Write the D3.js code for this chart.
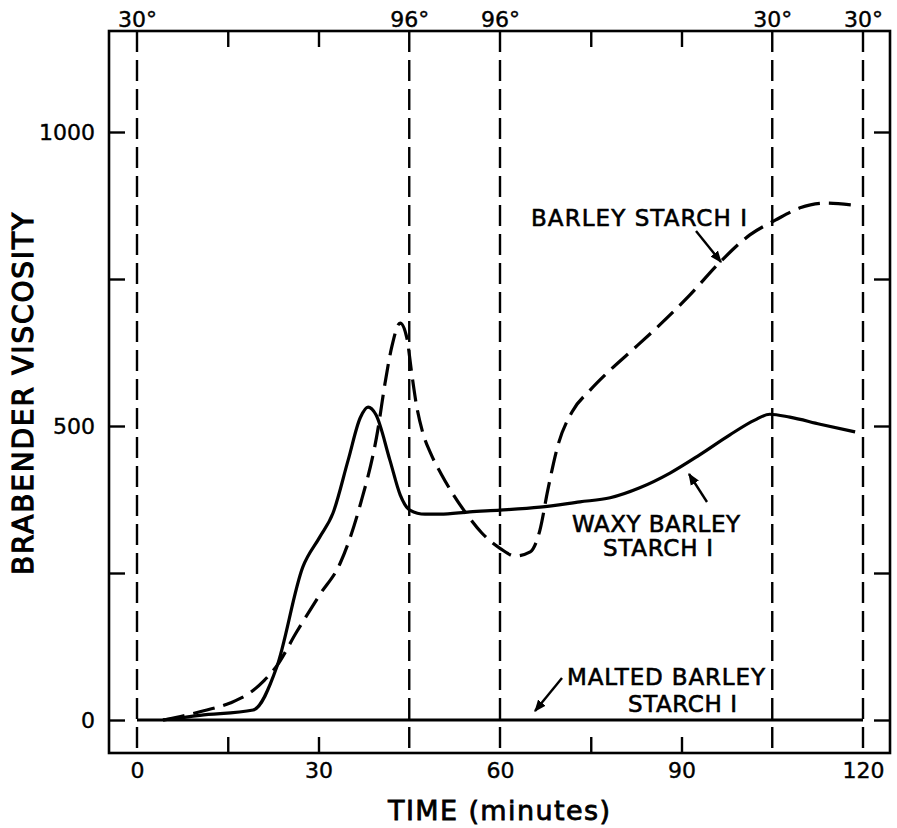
<!DOCTYPE html>
<html>
<head>
<meta charset="utf-8">
<script src="https://cdn.jsdelivr.net/npm/d3@7"></script>
<style>
  body { margin: 0; background: #fff; }
  svg text { font-family: "DejaVu Sans", sans-serif; fill: #000; }
</style>
</head>
<body>
<div id="vis"></div>
<script>
// data (time in minutes, Brabender units)
const barleyTime = [4.3, 10.4, 15.4, 18.5, 21.0, 23.1, 26.4, 30.2, 33.6, 36.9, 39.8, 41.0, 42.1, 43.5, 44.6, 45.4, 46.2, 47.2, 48.6, 50.3, 52.3, 54.5, 57.0, 60.0, 62.5, 65.0, 66.6, 67.9, 69.6, 71.9, 74.9, 78.2, 82.3, 86.4, 91.4, 96.4, 101.3, 105.5, 109.6, 113.7, 118.2];
const barleyVisc = [0, 14, 29, 45, 67, 92, 150, 213, 267, 366, 493, 573, 634, 675, 650, 590, 535, 490, 452, 418, 383, 350, 318, 292, 279, 286, 323, 391, 468, 524, 561, 595, 633, 672, 723, 779, 825, 850, 871, 879, 876];

const waxyTime = [4.3, 10.4, 19.2, 23.1, 27.4, 30.2, 32.4, 34.9, 36.9, 38.2, 39.5, 41.8, 43.5, 45.1, 47.6, 50.1, 55.0, 60.0, 66.6, 73.2, 78.2, 83.1, 88.1, 93.0, 98.0, 102.1, 104.6, 107.9, 112.9, 118.7];
const waxyVisc = [0, 8, 17, 90, 260, 311, 352, 442, 514, 532, 519, 442, 383, 357, 350, 350, 354, 357, 362, 371, 378, 395, 420, 451, 485, 510, 520, 515, 503, 490];

const maltedTime = [0, 120];
const maltedVisc = [0, 0];

// temperature marks on the top edge
const tempTimes = [0, 45, 60, 105, 120];
const tempLabels = ["30°", "96°", "96°", "30°", "30°"];

const xLabelTicks = [0, 30, 60, 90, 120];
const xMinorTicks = [15, 30, 75, 90];
const yTicks = [0, 250, 500, 750, 1000];
const yLabelTicks = [0, 500, 1000];

const WIDTH = 897, HEIGHT = 828;
const FRAME = {left: 109, right: 890, top: 31, bottom: 753};

const svg = d3.select("#vis").append("svg")
    .attr("width", WIDTH)
    .attr("height", HEIGHT);

const X_SCALE = d3.scaleLinear().domain([0, 120]).range([137, 863]);
const Y_SCALE = d3.scaleLinear().domain([0, 1000]).range([720, 132]);

function zip(a, b) { return a.map((t, i) => [t, b[i]]); }

// dashed temperature lines
svg.selectAll(".temp-line")
    .data(tempTimes)
    .enter().append("line")
    .attr("class", "temp-line")
    .attr("x1", d => X_SCALE(d)).attr("x2", d => X_SCALE(d))
    .attr("y1", FRAME.top).attr("y2", FRAME.bottom)
    .attr("stroke", "#000").attr("stroke-width", 2.4)
    .attr("stroke-dasharray", "21,8");

// axes (ticks point inwards)
function styleAxis(g) {
  g.select(".domain").remove();
  g.selectAll(".tick line").attr("stroke", "#000").attr("stroke-width", 2.4);
  g.selectAll(".tick text").attr("font-size", "22px").attr("fill", "#000")
    .attr("stroke", "#000").attr("stroke-width", 0.4);
}

svg.append("g")
    .attr("transform", "translate(" + FRAME.left + ",0)")
    .call(d3.axisLeft(Y_SCALE).tickValues(yTicks).tickSizeInner(-16).tickSizeOuter(0).tickPadding(14)
      .tickFormat(d => yLabelTicks.includes(d) ? d : ""))
    .call(styleAxis);

svg.append("g")
    .attr("transform", "translate(" + FRAME.right + ",0)")
    .call(d3.axisRight(Y_SCALE).tickValues(yTicks).tickSizeInner(-16).tickSizeOuter(0).tickFormat(""))
    .call(styleAxis);

svg.append("g")
    .attr("transform", "translate(0," + FRAME.bottom + ")")
    .call(d3.axisBottom(X_SCALE).tickValues(xMinorTicks).tickSizeInner(-16).tickSizeOuter(0).tickFormat(""))
    .call(styleAxis);

svg.append("g")
    .attr("transform", "translate(0," + FRAME.bottom + ")")
    .call(d3.axisBottom(X_SCALE).tickValues(xLabelTicks).tickSize(0).tickPadding(9))
    .call(styleAxis);

svg.append("g")
    .attr("transform", "translate(0," + FRAME.top + ")")
    .call(d3.axisTop(X_SCALE).tickValues(xMinorTicks).tickSizeInner(-16).tickSizeOuter(0).tickFormat(""))
    .call(styleAxis);

svg.append("g")
    .attr("transform", "translate(0," + FRAME.top + ")")
    .call(d3.axisTop(X_SCALE).tickValues(tempTimes).tickSize(0).tickPadding(4)
      .tickFormat((d, i) => tempLabels[i]))
    .call(styleAxis);

// frame
svg.append("rect")
    .attr("x", FRAME.left).attr("y", FRAME.top)
    .attr("width", FRAME.right - FRAME.left)
    .attr("height", FRAME.bottom - FRAME.top)
    .attr("fill", "none").attr("stroke", "#000").attr("stroke-width", 2.6);

// curves
const line = d3.line()
    .x(d => X_SCALE(d[0]))
    .y(d => Y_SCALE(d[1]))
    .curve(d3.curveMonotoneX);

svg.append("path")
    .datum(zip(maltedTime, maltedVisc))
    .attr("d", line)
    .attr("fill", "none").attr("stroke", "#000").attr("stroke-width", 2.8);

svg.append("path")
    .datum(zip(waxyTime, waxyVisc))
    .attr("d", line)
    .attr("fill", "none").attr("stroke", "#000").attr("stroke-width", 3.2);

svg.append("path")
    .datum(zip(barleyTime, barleyVisc))
    .attr("d", line)
    .attr("fill", "none").attr("stroke", "#000").attr("stroke-width", 3.2)
    .attr("stroke-dasharray", "22,9");

// labels with arrows
svg.append("defs").append("marker")
    .attr("id", "arrow")
    .attr("viewBox", "0 0 10 10")
    .attr("refX", 9).attr("refY", 5)
    .attr("markerWidth", 5).attr("markerHeight", 5)
    .attr("orient", "auto")
  .append("path")
    .attr("d", "M0,1 L10,5 L0,9 Z")
    .attr("fill", "#000");

function note(x, y, len, txt) {
  svg.append("text")
      .attr("x", x).attr("y", y)
      .attr("font-size", "23px")
      .attr("stroke", "#000").attr("stroke-width", 0.6)
      .attr("textLength", len)
      .attr("lengthAdjust", "spacing")
      .text(txt);
}
function arrow(x1, y1, x2, y2) {
  svg.append("line")
      .attr("x1", x1).attr("y1", y1).attr("x2", x2).attr("y2", y2)
      .attr("stroke", "#000").attr("stroke-width", 2.4)
      .attr("marker-end", "url(#arrow)");
}

note(531, 226, 216, "BARLEY STARCH I");
arrow(696, 231, 721, 262);

note(572, 532, 168, "WAXY BARLEY");
note(603, 556, 110, "STARCH I");
arrow(707, 502, 689, 474);

note(567, 685, 198, "MALTED BARLEY");
note(628, 712, 109, "STARCH I");
arrow(562, 678, 535, 711);

// axis titles
svg.append("text")
    .attr("transform", "translate(33,394) rotate(-90)")
    .attr("text-anchor", "middle")
    .attr("font-size", "28px")
    .attr("stroke", "#000").attr("stroke-width", 1.2)
    .attr("textLength", 362)
    .attr("lengthAdjust", "spacing")
    .text("BRABENDER VISCOSITY");

svg.append("text")
    .attr("x", 499).attr("y", 820)
    .attr("text-anchor", "middle")
    .attr("font-size", "27px")
    .attr("stroke", "#000").attr("stroke-width", 0.8)
    .attr("textLength", 222)
    .attr("lengthAdjust", "spacing")
    .text("TIME (minutes)");
</script>
</body>
</html>
